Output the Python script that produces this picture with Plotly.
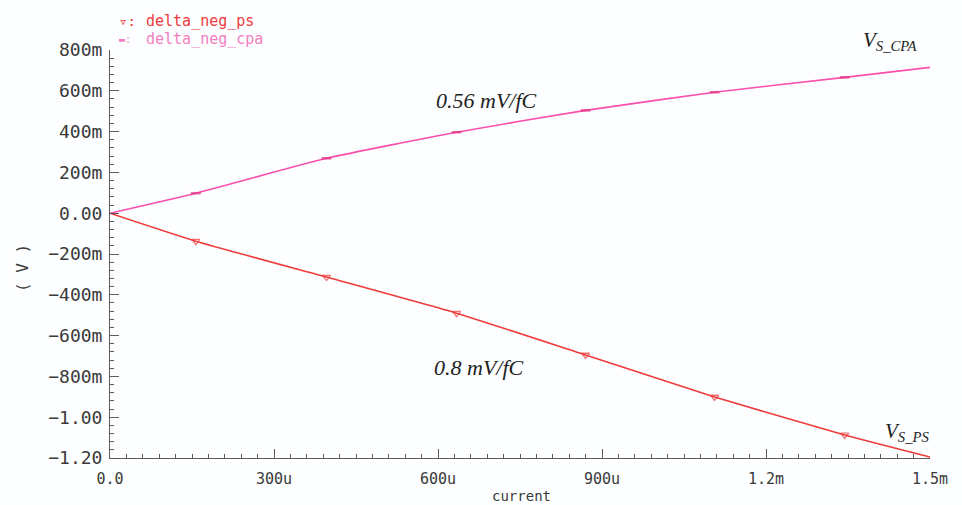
import plotly.graph_objects as go

# ---- data ----
current = [0.0, 157e-6, 396e-6, 634e-6, 870e-6, 1106e-6, 1344e-6, 1500e-6]
delta_neg_cpa = [0.0, 0.098, 0.269, 0.397, 0.504, 0.593, 0.666, 0.715]
delta_neg_ps = [0.0, -0.137, -0.313, -0.490, -0.695, -0.901, -1.087, -1.195]

x_tickvals = [0, 300e-6, 600e-6, 900e-6, 1.2e-3, 1.5e-3]
x_ticktext = ["0.0", "300u", "600u", "900u", "1.2m", "1.5m"]
y_tickvals = [-1.2, -1.0, -0.8, -0.6, -0.4, -0.2, 0.0, 0.2, 0.4, 0.6, 0.8]
y_ticktext = ["\u22121.20", "\u22121.00", "\u2212800m", "\u2212600m", "\u2212400m",
              "\u2212200m", "0.00", "200m", "400m", "600m", "800m"]

RED = "#ee3b3b"
PINK = "#fb4fae"
AXC = "#5a5a5a"
TXT = "#3a3a3a"

W, H = 962, 505
L, R, T, B = 110, 32, 50, 47
PW, PH = W - L - R, H - T - B


def px(x):
    return (x - L) / PW


def py(y):
    return (H - B - y) / PH


n = len(current)
msize = [0] + [7] * (n - 2) + [0]

fig = go.Figure()
fig.add_trace(go.Scatter(
    x=current, y=delta_neg_cpa, mode="lines+markers", name="delta_neg_cpa",
    line=dict(color=PINK, width=1.6, shape="spline", smoothing=0.5),
    marker=dict(symbol="line-ew", size=msize, color=PINK,
                line=dict(color="#e0307f", width=2.5)),
))
fig.add_trace(go.Scatter(
    x=current, y=delta_neg_ps, mode="lines+markers", name="delta_neg_ps",
    line=dict(color=RED, width=1.6, shape="spline", smoothing=0.5),
    marker=dict(symbol="triangle-down-open", size=msize, color=RED,
                line=dict(color=RED, width=1.3)),
))

mono = "DejaVu Sans Mono"
serif = "Liberation Serif"
ann = [
    dict(x=px(117), y=py(21), text="\u25bf:", font=dict(family=mono, size=14, color=RED)),
    dict(x=px(144), y=py(21), text="delta_neg_ps", font=dict(family=mono, size=15, color=RED)),
    dict(x=px(117), y=py(39), text="\u25ac:", font=dict(family=mono, size=10, color="#f27fbf")),
    dict(x=px(144), y=py(39), text="delta_neg_cpa", font=dict(family=mono, size=15, color="#f27fbf")),
    dict(x=px(434), y=py(100), text="<i>0.56 mV/fC</i>", font=dict(family=serif, size=22, color="#222")),
    dict(x=px(432), y=py(367), text="<i>0.8 mV/fC</i>", font=dict(family=serif, size=22, color="#222")),
    dict(x=px(861), y=py(41), text="<i>V<sub>S_CPA</sub></i>", font=dict(family=serif, size=21, color="#222")),
    dict(x=px(883), y=py(432), text="<i>V<sub>S_PS</sub></i>", font=dict(family=serif, size=21, color="#222")),
]
for a in ann:
    a.update(xanchor="left")
ann += [
    dict(x=px(521), y=py(496), text="current", xanchor="center",
         font=dict(family=mono, size=14, color=TXT)),
    dict(x=px(22), y=py(268), text="( V )", xanchor="center", textangle=-90,
         font=dict(family=mono, size=16, color=TXT)),
]
for a in ann:
    a.update(xref="paper", yref="paper", yanchor="middle", showarrow=False)
fig.update_layout(annotations=ann)

fig.update_layout(
    width=W, height=H,
    margin=dict(l=L, r=R, t=T, b=B, pad=0),
    paper_bgcolor="#fcfeff", plot_bgcolor="#fcfeff",
    showlegend=False,
    font=dict(family=mono, color=TXT),
)
fig.update_xaxes(
    range=[0, 1.5e-3], tickvals=x_tickvals, ticktext=x_ticktext,
    showgrid=False, zeroline=False, showline=True, linecolor=AXC, linewidth=1,
    ticks="inside", ticklen=9, tickcolor=AXC, tickwidth=1,
    tickfont=dict(family=mono, size=15, color=TXT), ticklabelstandoff=7,
    minor=dict(dtick=30e-6, ticks="inside", ticklen=4, tickcolor=AXC, showgrid=False),
)
fig.update_yaxes(
    range=[-1.2, 0.8], tickvals=y_tickvals, ticktext=y_ticktext,
    showgrid=False, zeroline=False, showline=True, linecolor=AXC, linewidth=1,
    ticks="inside", ticklen=9, tickcolor=AXC, tickwidth=1,
    tickfont=dict(family=mono, size=18, color=TXT), ticklabelstandoff=3,
    minor=dict(dtick=0.04, tick0=0, ticks="inside", ticklen=4, tickcolor=AXC, showgrid=False),
)

fig.write_html("out.html", config={"displayModeBar": False},
               post_script="document.body.style.margin='0';")
